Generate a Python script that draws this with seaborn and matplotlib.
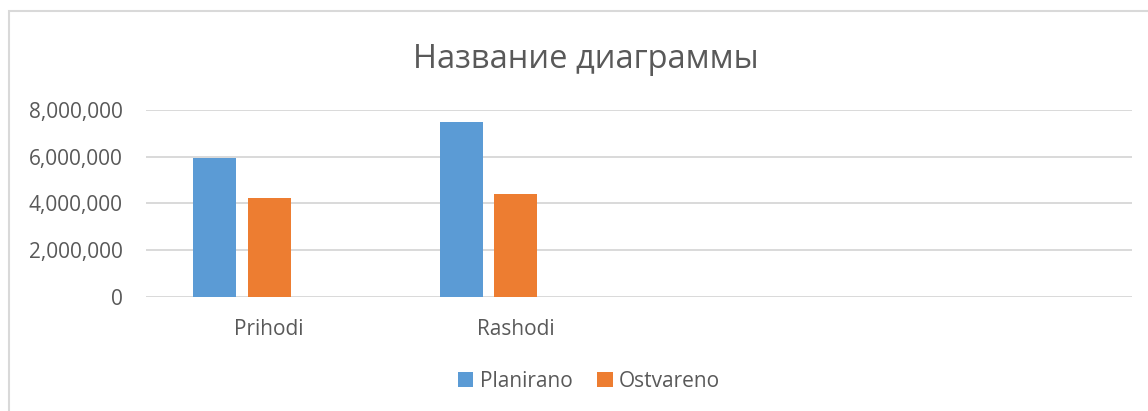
import pandas as pd
import seaborn as sns
import matplotlib.pyplot as plt
from matplotlib.ticker import FuncFormatter
from matplotlib.patches import Rectangle, Patch

# Data
categories = ["Prihodi", "Rashodi"]
planirano = [5930000, 7500000]
ostvareno = [4240000, 4390000]
series = ["Planirano", "Ostvareno"]
colors = ["#5B9BD5", "#ED7D31"]

# Excel layout: 4 category slots (two empty) and a third empty series
slot_order = categories + ["_c3", "_c4"]
hue_order = series + ["_s3"]

df = pd.DataFrame({
    "Category": categories * 2,
    "Series": ["Planirano"] * len(categories) + ["Ostvareno"] * len(categories),
    "Value": planirano + ostvareno,
})

sns.set_style("white")
plt.rcParams["font.family"] = ["Open Sans", "DejaVu Sans"]
text_color = "#595959"
grid_color = "#D9D9D9"

fig = plt.figure(figsize=(11.48, 4.11), dpi=100)
ax = fig.add_axes([146 / 1148, 114.5 / 411, (1132 - 146) / 1148, 186.5 / 411])

sns.barplot(data=df, x="Category", y="Value", hue="Series",
            order=slot_order, hue_order=hue_order,
            palette=colors + ["#FFFFFF"], saturation=1,
            width=0.665, gap=0.2126,
            linewidth=0, errorbar=None, legend=False, ax=ax)

ax.set_xlim(-0.5, len(slot_order) - 0.5)
ax.set_ylim(0, 8000000)
ax.set_yticks([0, 2000000, 4000000, 6000000, 8000000])
ax.yaxis.set_major_formatter(FuncFormatter(lambda v, p: "{:,.0f}".format(v)))
ax.set_xticks(range(len(slot_order)))
ax.set_xticklabels(categories + ["", ""])

ax.set_xlabel("")
ax.set_ylabel("")
ax.tick_params(axis="both", length=0, labelsize=15, colors=text_color)
ax.tick_params(axis="y", pad=17)
ax.tick_params(axis="x", pad=16)

ax.grid(axis="y", color=grid_color, linewidth=1.4)
ax.grid(axis="x", visible=False)
ax.set_axisbelow(True)
for s in ax.spines.values():
    s.set_visible(False)

# Title
fig.text(586 / 1148, 1 - 67.7 / 411, "Название диаграммы", ha="center",
         va="baseline", fontsize=23.5, color=text_color)

# Legend
handles = [Patch(facecolor=c, edgecolor="none") for c in colors]
fig.legend(handles, series, loc="center", bbox_to_anchor=(589 / 1148, 1 - 381 / 411),
           ncol=2, frameon=False, fontsize=15, labelcolor=text_color,
           handlelength=0.75, handleheight=0.75, handletextpad=0.3, columnspacing=1.2)

# Chart area border (cropped at right and bottom)
fig.add_artist(Rectangle((8.5 / 1148, -0.2), 1.5, 1.2 - 11.5 / 411,
                         transform=fig.transFigure, fill=False,
                         edgecolor=grid_color, linewidth=1.5))

plt.savefig("out.png", dpi=100)
